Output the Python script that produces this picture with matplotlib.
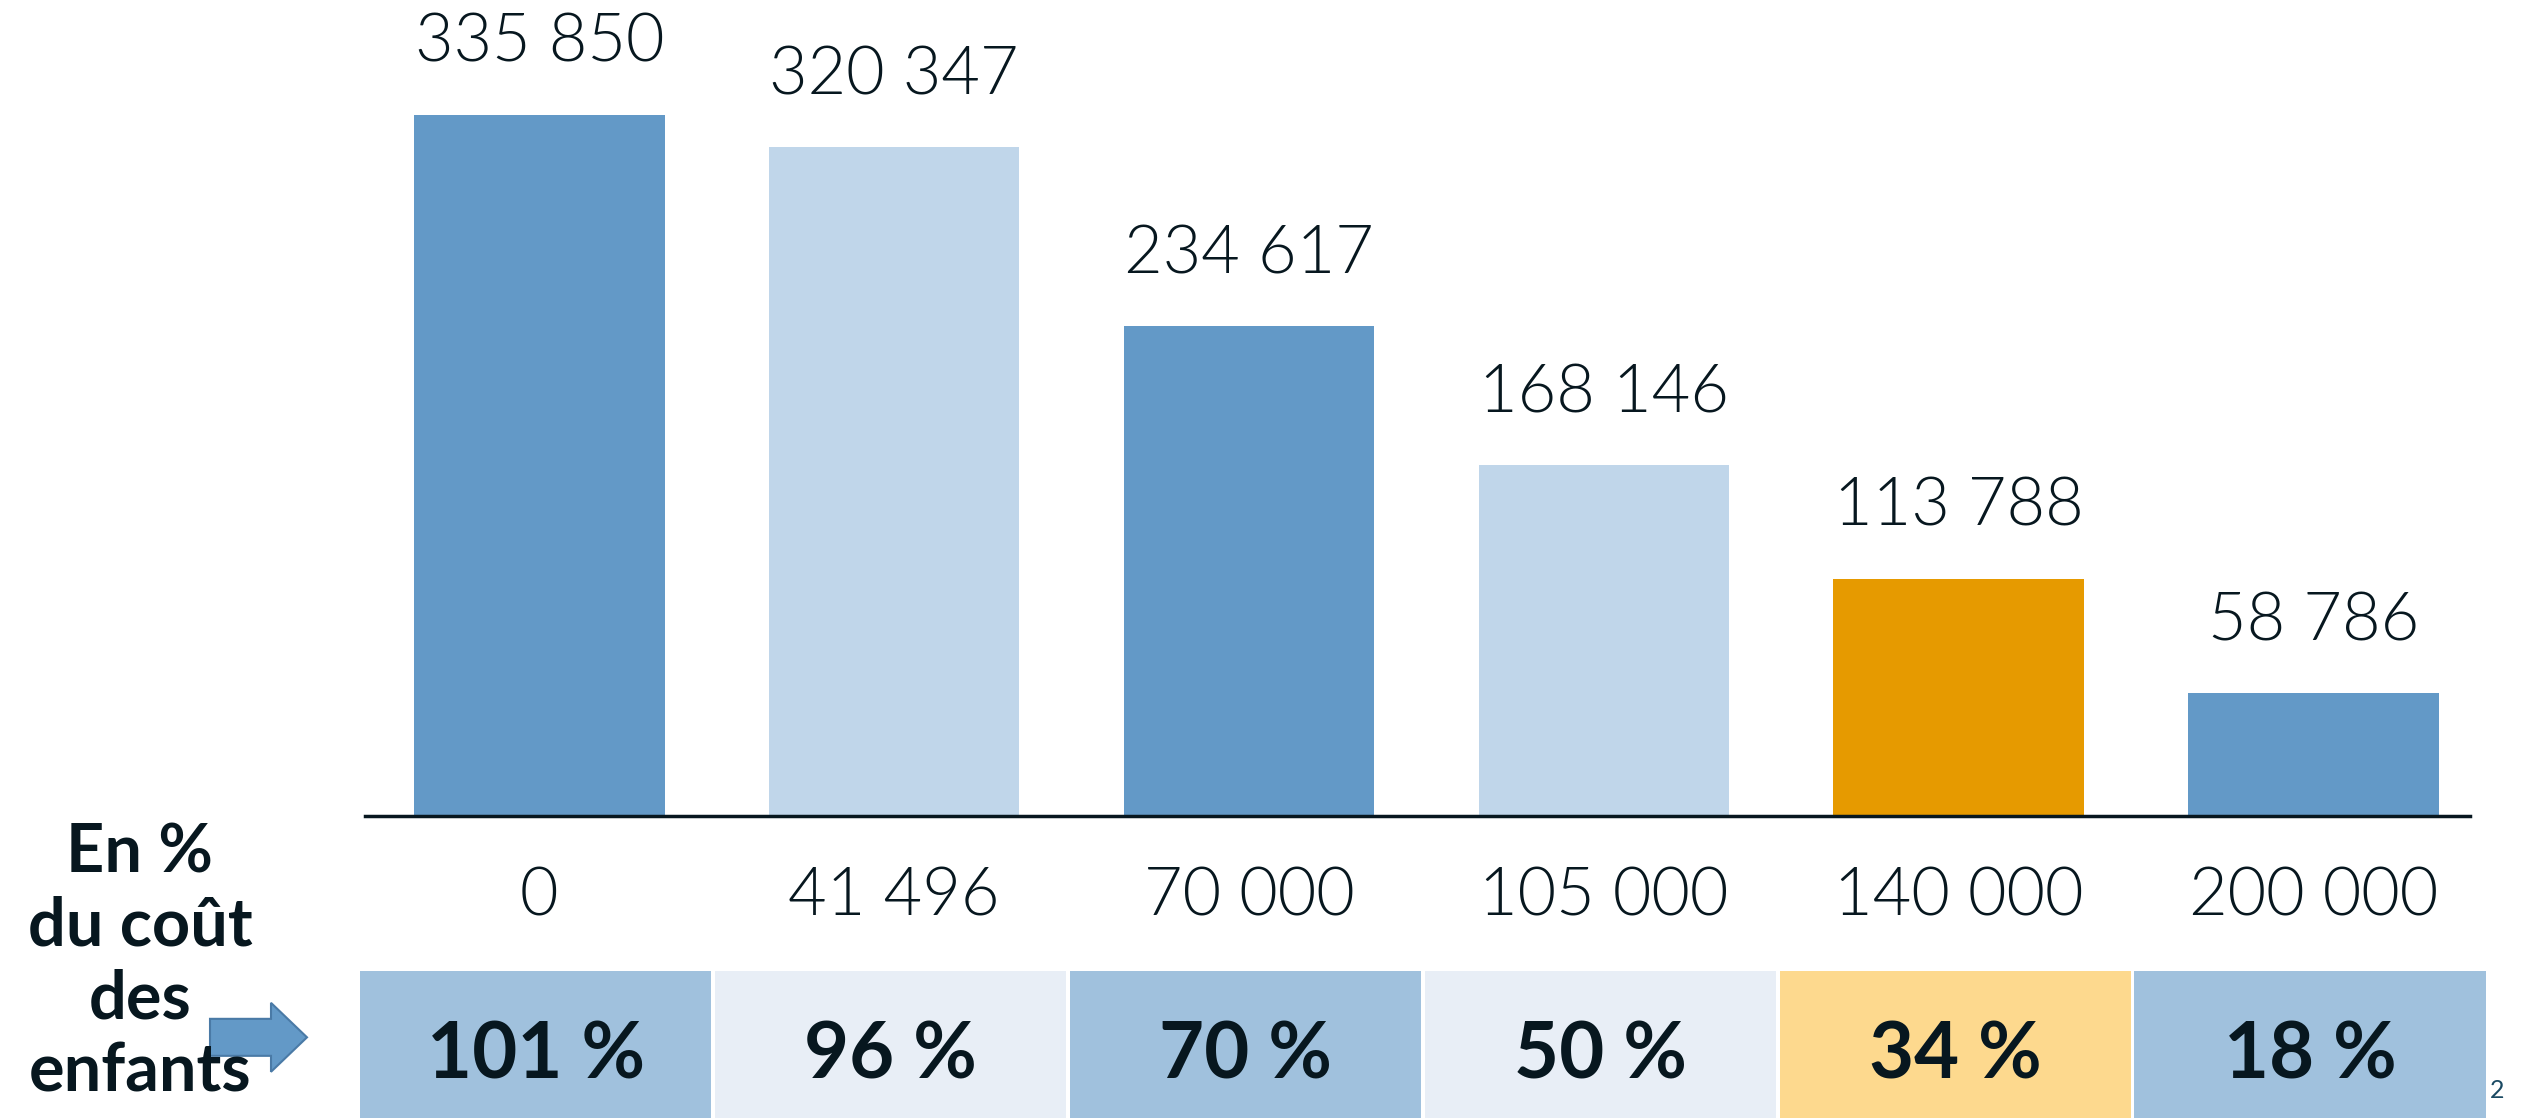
import matplotlib
matplotlib.use("Agg")
import matplotlib.pyplot as plt
from matplotlib.patches import FancyArrow
import numpy as np

# données
seuils = ["0", "41 496", "70 000", "105 000", "140 000", "200 000"]
effectifs = [335850, 320347, 234617, 168146, 113788, 58786]
part_cout = ["101 %", "96 %", "70 %", "50 %", "34 %", "18 %"]

bleu = "#6399C7"
bleu_clair = "#C0D6EA"
orange = "#E69A00"
couleurs_barres = [bleu, bleu_clair, bleu, bleu_clair, orange, bleu]
couleurs_table = ["#A0C1DD", "#E8EEF6", "#A0C1DD", "#E8EEF6", "#FDD98E", "#A0C1DD"]
texte = "#07171F"

plt.rcParams['font.family'] = ['Lato', 'DejaVu Sans']

fig = plt.figure(figsize=(25.31, 11.18), dpi=100)

x0 = 222 / 1568
x1 = 1541 / 1568
ax = fig.add_axes([x0, (693 - 506) / 693, x1 - x0, 506 / 693])
x = np.arange(len(effectifs))

ax.bar(x, effectifs, width=0.706, color=couleurs_barres)
ax.set_xlim(-0.51, 5.49)
ax.set_ylim(0, 390670)

for xi, v in zip(x, effectifs):
    lab = f"{v:,}".replace(",", " ")
    ax.annotate(lab, (xi, v), xytext=(0, 38), textcoords="offset points",
                ha="center", va="baseline", fontsize=48, color=texte,
                fontweight=300)

for s in ["top", "right", "left"]:
    ax.spines[s].set_visible(False)
ax.spines["bottom"].set_bounds(-0.49, 5.44)
ax.spines["bottom"].set_linewidth(2.5)
ax.spines["bottom"].set_color(texte)
ax.set_yticks([])
ax.set_xticks(x)
ax.set_xticklabels(seuils, fontsize=48, color=texte, fontweight=300)
ax.tick_params(axis="x", length=0, pad=37)

# tableau du bas
axt = fig.add_axes([x0, 0, x1 - x0, (693 - 602) / 693])
axt.bar(x - 0.01, [1] * len(x), width=0.99, color=couleurs_table)
axt.set_xlim(-0.51, 5.49)
axt.set_ylim(0, 1)
axt.axis("off")
for xi, p in zip(x, part_cout):
    axt.text(xi - 0.01, 0.42, p, ha="center", va="center", fontsize=56,
             fontweight="bold", color=texte)

fig.text(140 / 2531, 1 - 597 / 693, "En %\ndu coût\ndes\nenfants", ha="center",
         va="center", fontsize=48, fontweight="bold", color=texte, linespacing=1.22)

fleche = FancyArrow(210 / 2531, 1 - 643 / 693, 97 / 2531, 0, width=37 / 1118,
                    head_width=69 / 1118, head_length=36 / 2531,
                    length_includes_head=True, transform=fig.transFigure,
                    facecolor=bleu, edgecolor="#4A7AA6", linewidth=1.5)
fig.add_artist(fleche)

fig.text(2497 / 2531, 1 - 676 / 693, "2", ha="center", va="center",
         fontsize=18, color="#1B4A63")

fig.savefig("out.png", dpi=100)
